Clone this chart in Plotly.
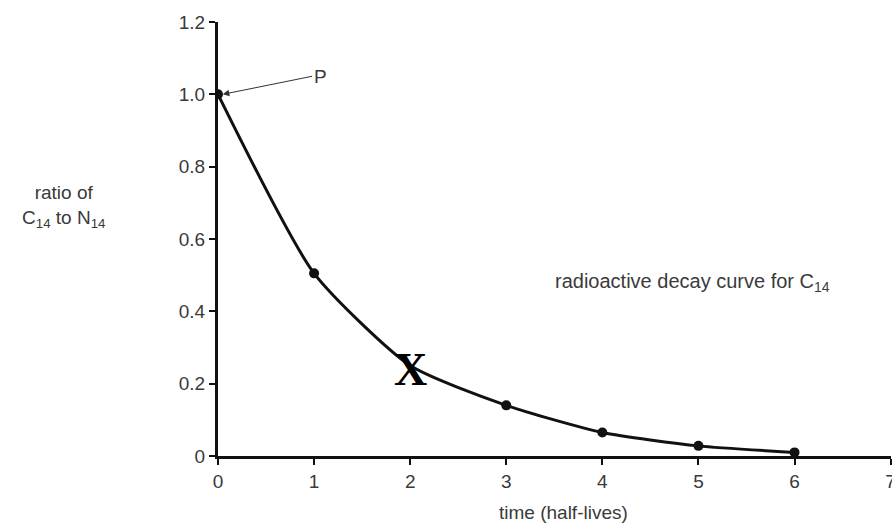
import plotly.graph_objects as go

half_lives = [0, 1, 2, 3, 4, 5, 6]
ratio = [1.0, 0.505, 0.25, 0.14, 0.065, 0.028, 0.01]
dot_x = [0, 1, 3, 4, 5, 6]
dot_y = [1.0, 0.505, 0.14, 0.065, 0.028, 0.01]
x_ticks = [0, 1, 2, 3, 4, 5, 6, 7]
y_ticks = [0, 0.2, 0.4, 0.6, 0.8, 1.0, 1.2]
y_tick_labels = ["0", "0.2", "0.4", "0.6", "0.8", "1.0", "1.2"]

txt = "#3a3a3a"
font = "Liberation Sans, Arial, sans-serif"

fig = go.Figure()
fig.add_trace(go.Scatter(x=half_lives, y=ratio, mode="lines",
                         line=dict(color="#111", width=3, shape="spline", smoothing=0.6),
                         showlegend=False, hoverinfo="skip"))
fig.add_trace(go.Scatter(x=dot_x, y=dot_y, mode="markers",
                         marker=dict(color="#111", size=10),
                         showlegend=False))

fig.update_layout(
    width=892, height=527,
    margin=dict(l=218, r=1, t=22, b=71),
    paper_bgcolor="white", plot_bgcolor="white",
    font=dict(family=font, size=19, color=txt),
    xaxis=dict(range=[0, 7.004], tickvals=x_ticks, showgrid=False, zeroline=False,
               showline=True, linecolor="#111", linewidth=3,
               ticks="outside", ticklen=6, tickwidth=2, tickcolor="#111",
               ticklabeloverflow="allow", automargin=False,
               tickfont=dict(size=19, color=txt)),
    yaxis=dict(range=[0, 1.2], tickvals=y_ticks, ticktext=y_tick_labels,
               showgrid=False, zeroline=False, automargin=False,
               showline=True, linecolor="#111", linewidth=3,
               ticks="outside", ticklen=6, tickwidth=2, tickcolor="#111",
               tickfont=dict(size=19, color=txt)),
)

fig.add_annotation(text="time (half-lives)", xref="paper", yref="paper",
                   x=0.514, y=-0.131, xanchor="center", yanchor="middle",
                   showarrow=False, font=dict(size=19, color=txt))
fig.add_annotation(text="ratio of<br>C<sub>14</sub> to N<sub>14</sub>",
                   xref="paper", yref="paper", x=-0.229, y=0.576,
                   xanchor="center", yanchor="middle",
                   showarrow=False, align="center",
                   font=dict(size=19, color=txt))
fig.add_annotation(text="radioactive decay curve for C<sub>14</sub>",
                   x=4.94, y=0.481, xref="x", yref="y", showarrow=False,
                   xanchor="center", yanchor="middle",
                   font=dict(size=20, color=txt))
fig.add_annotation(text="P", x=0.05, y=1.0, ax=0.98, ay=1.05,
                   xref="x", yref="y", axref="x", ayref="y",
                   showarrow=True, arrowhead=2, arrowsize=1.3, arrowwidth=1,
                   arrowcolor="#333", xanchor="left", yanchor="middle",
                   font=dict(size=19, color=txt))
fig.add_annotation(text="<b>X</b>", x=2, y=0.238, xref="x", yref="y",
                   showarrow=False, xanchor="center", yanchor="middle",
                   font=dict(family="Liberation Serif, Times New Roman, serif",
                             size=46, color="black"))

fig.write_html("out.html", config={"displayModeBar": False},
               post_script="document.body.style.margin='0';")
